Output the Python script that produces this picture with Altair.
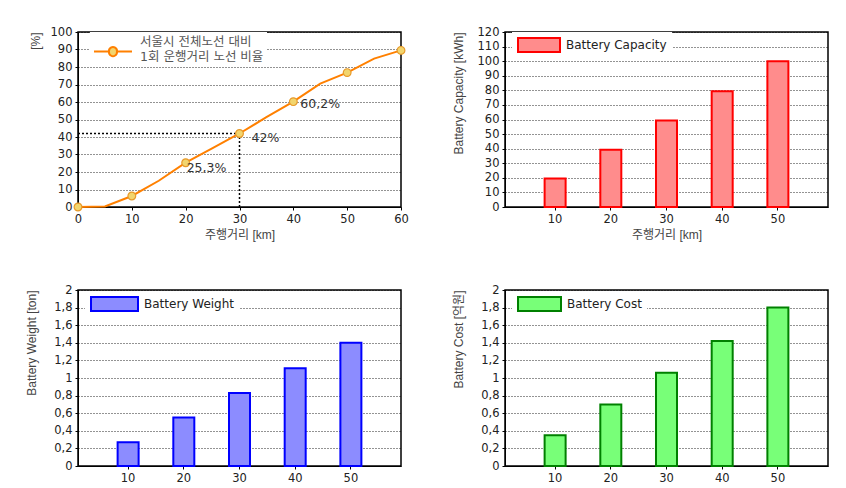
import altair as alt
import pandas as pd

# ---------------- data ----------------
dist = [0, 5, 10, 15, 20, 25, 30, 35, 40, 45, 50, 55, 60]
ratio = [0, 0.3, 6.3, 15, 25.3, 33.7, 42, 51.3, 60.2, 70.5, 76.8, 84.8, 89.5]
line_label = "서울시 전체노선 대비|1회 운행거리 노선 비율"

ann_x = [20, 30, 40]
ann_y = [25.3, 42, 60.2]
ann_text = ["25,3%", "42%", "60,2%"]
ann_dx = [1, 12, 7]
ann_dy = [5, 4, 2]

ref_x = [30]
ref_y = [42]

bar_x = [10, 20, 30, 40, 50]
capacity = [19.6, 39.3, 59.3, 79.3, 100]
weight = [0.27, 0.55, 0.83, 1.11, 1.4]
cost = [0.35, 0.7, 1.06, 1.42, 1.8]

FONT = "DejaVu Sans, Noto Sans CJK KR"
TFONT = "Liberation Sans, Noto Sans CJK KR"
W, H = 323, 175
NBSP = "\u00a0"

# ---------------- panel 1: line ----------------
x_scale1 = alt.Scale(domain=[0, 60], nice=False)
y_scale1 = alt.Scale(domain=[0, 100], nice=False)
x_axis1 = alt.Axis(values=[0, 10, 20, 30, 40, 50, 60], grid=False, labelFlush=False,
                   labelOverlap=False, title="주행거리 [km]", titlePadding=5)
y_axis1 = alt.Axis(values=list(range(0, 101, 10)), title="[%]", titleAnchor="end",
                   labelOverlap=False, minExtent=30, maxExtent=30, titlePadding=6)


def X1(f):
    return alt.X(f, scale=x_scale1, axis=x_axis1)


def Y1(f):
    return alt.Y(f, scale=y_scale1, axis=y_axis1)


line_df = pd.DataFrame({"dist": dist, "ratio": ratio, "series": line_label})

line = alt.Chart(line_df).mark_line(color="#FF8000", strokeWidth=2).encode(
    x=X1("dist:Q"), y=Y1("ratio:Q"))

# legend symbol: line with a marker, drawn below the first label line
lpath = ("M-1,1.6H1.5M2.83,1.6H5.33"
         "M2.83,1.6A0.67,0.67 0 1,1 1.5,1.6A0.67,0.67 0 1,1 2.83,1.6Z")
pts = alt.Chart(line_df).transform_filter("datum.dist % 10 == 0").mark_point(
    filled=True, size=60, stroke="#E89A2A", strokeWidth=1.2, opacity=1
).encode(
    x=X1("dist:Q"), y=Y1("ratio:Q"),
    fill=alt.Fill("series:N", scale=alt.Scale(range=["#F2D56E"]),
                  legend=alt.Legend(title=None, orient="none", legendX=12, legendY=0,
                                    padding=3, fillColor="white",
                                    symbolType=lpath, symbolSize=144,
                                    symbolStrokeColor="#FF8000", symbolStrokeWidth=2,
                                    labelExpr="split(datum.label, '|')",
                                    labelFont=FONT, labelFontSize=12.5, labelColor="#555",
                                    labelOffset=33)),
)

ref_df = pd.DataFrame({"dist": ref_x, "ratio": ref_y, "dist0": [0], "ratio0": [0]})
hrule = alt.Chart(ref_df).mark_rule(color="black", strokeDash=[2, 2], strokeWidth=1.5).encode(
    x=X1("dist0:Q"), x2="dist:Q", y=Y1("ratio:Q"))
vrule = alt.Chart(ref_df).mark_rule(color="black", strokeDash=[2, 2], strokeWidth=1.5).encode(
    x=X1("dist:Q"), y=Y1("ratio0:Q"), y2="ratio:Q")

ann_layers = []
for ax, ay, at, dx, dy in zip(ann_x, ann_y, ann_text, ann_dx, ann_dy):
    d = pd.DataFrame({"dist": [ax], "ratio": [ay], "t": [at]})
    ann_layers.append(
        alt.Chart(d).mark_text(align="left", baseline="middle", dx=dx, dy=dy,
                               font=FONT, fontSize=12.5, color="#333").encode(
            x=X1("dist:Q"), y=Y1("ratio:Q"), text="t:N"))

p1 = alt.layer(line, hrule, vrule, pts, *ann_layers).properties(width=W, height=H)

# ---------------- bar panels ----------------


def bar_panel(vals, fill, stroke, ytitle, label, ydomain, yvalues, xtitle, comma, h,
              sym_w, leg_y, pad_n):
    df = pd.DataFrame({"dist": bar_x, "v": vals, "series": label})
    yaxis_kw = dict(values=yvalues, title=ytitle, titleAnchor="end", labelOverlap=False,
                    minExtent=30, maxExtent=30, titlePadding=10)
    if comma:
        yaxis_kw["labelExpr"] = "replace(format(datum.value, '.1~f'), '.', ',')"
    xaxis_kw = dict(labelAngle=0, grid=False)
    if xtitle:
        xaxis_kw["title"] = xtitle
        xaxis_kw["titlePadding"] = 5
    else:
        xaxis_kw["title"] = None
    # small nominal symbol size (14px) with a wide path
    xr = -1 + sym_w / 7.0
    rect_path = f"M-1,-1H{xr:.3f}V1H-1Z"
    return alt.Chart(df).mark_bar(stroke=stroke, strokeWidth=2, size=21).encode(
        x=alt.X("dist:O", scale=alt.Scale(paddingInner=0.6, paddingOuter=0.7),
                axis=alt.Axis(**xaxis_kw)),
        y=alt.Y("v:Q", scale=alt.Scale(domain=ydomain, nice=False), axis=alt.Axis(**yaxis_kw)),
        color=alt.Color("series:N", scale=alt.Scale(range=[fill]),
                        legend=alt.Legend(title=None, orient="none", legendX=7, legendY=leg_y,
                                          padding=5, fillColor="white",
                                          symbolType=rect_path, symbolSize=196,
                                          symbolStrokeColor=stroke, symbolStrokeWidth=2,
                                          labelExpr="datum.label + '" + NBSP * pad_n + "'",
                                          labelFont=FONT, labelFontSize=12, labelColor="#222",
                                          labelOffset=sym_w - 14 + 5)),
    ).properties(width=W, height=h)


p2 = bar_panel(capacity, "#FF8C8C", "#FF0000", "Battery Capacity [kWh]", "Battery Capacity",
               [0, 120], list(range(0, 121, 10)), "주행거리 [km]", False, H, 42, 0, 4)
p3 = bar_panel(weight, "#8C8CFF", "#0000FF", "Battery Weight [ton]", "Battery Weight",
               [0, 2], [0, 0.2, 0.4, 0.6, 0.8, 1, 1.2, 1.4, 1.6, 1.8, 2], None, True, 176,
               47, 1, 11)
p4 = bar_panel(cost, "#78FF78", "#008000", "Battery Cost [억원]", "Battery Cost",
               [0, 2], [0, 0.2, 0.4, 0.6, 0.8, 1, 1.2, 1.4, 1.6, 1.8, 2], None, True, 176,
               43, 1, 12)

row1 = alt.hconcat(p1, p2, spacing=41).resolve_scale(color="independent", fill="independent")
row2 = alt.hconcat(p3, p4, spacing=49).resolve_scale(color="independent")

chart = alt.vconcat(row1, row2, spacing=41).resolve_scale(
    color="independent", fill="independent"
).properties(
    padding={"left": 16, "top": 17, "right": 0, "bottom": 0}
).configure_view(
    stroke="black", strokeWidth=1.5
).configure_axis(
    domainColor="black", tickColor="black", tickSize=3,
    labelFont=FONT, labelFontSize=11.5, labelColor="#222", labelPadding=3,
    titleFont=TFONT, titleFontSize=12, titleColor="#444", titleFontWeight="normal",
    gridColor="black", gridDash=[1, 2], gridWidth=1, gridOpacity=0.85,
)

chart.save("out.html", embed_options={"renderer": "svg", "actions": False})
